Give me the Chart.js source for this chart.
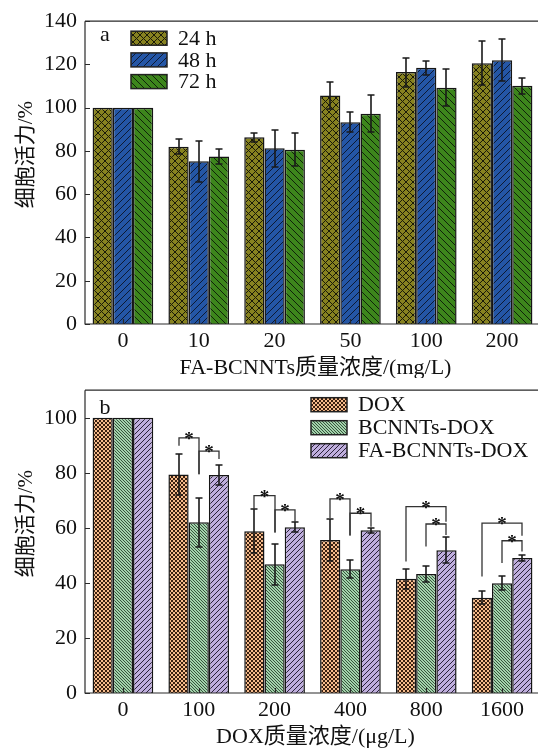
<!DOCTYPE html>
<html>
<head>
<meta charset="utf-8">
<script src="https://cdn.jsdelivr.net/npm/chart.js@4.4.1/dist/chart.umd.min.js"></script>
<style>
  html, body { margin: 0; padding: 0; width: 538px; height: 749px; overflow: hidden; background: #fff; }
  canvas { position: absolute; left: 0; }
  #ca { top: 0; }
  #cb { top: 369px; }
</style>
</head>
<body>
<canvas id="ca" width="545" height="378"></canvas>
<canvas id="cb" width="545" height="380"></canvas>
<script>
// panel a: FA-BCNNTs, 24/48/72 h
const catsA = ['0', '10', '20', '50', '100', '200']
const h24 = [100, 82.0, 86.3, 105.7, 116.5, 120.6]
const h24Err = [0, 3.4, 2.2, 6.1, 6.7, 10.3]
const h48 = [100, 75.3, 81.3, 93.3, 118.5, 122.0]
const h48Err = [0, 9.5, 8.6, 4.6, 3.2, 9.6]
const h72 = [100, 77.4, 80.6, 97.2, 109.2, 110.2]
const h72Err = [0, 3.6, 7.7, 8.5, 8.5, 3.7]
const ticksA = [0, 20, 40, 60, 80, 100, 120, 140]

// panel b: DOX formulations
const catsB = ['0', '100', '200', '400', '800', '1600']
const dox = [100, 79.4, 58.8, 55.6, 41.5, 34.6]
const doxErr = [0, 7.6, 7.9, 7.6, 3.7, 2.4]
const bcnnt = [100, 62.0, 46.8, 45.0, 43.2, 39.9]
const bcnntErr = [0, 8.8, 7.5, 3.3, 2.9, 2.6]
const faDox = [100, 79.2, 60.2, 59.1, 51.9, 49.0]
const faDoxErr = [0, 3.8, 1.8, 1.0, 4.7, 1.0]
const ticksB = [0, 20, 40, 60, 80, 100]
// significance brackets: [category, from series, to series, top, left end, right end]
const sigB = [
  [1, 0, 1, 92.7, 89.8, 79.5], [1, 1, 2, 87.9, 79.5, 85.0],
  [2, 0, 1, 71.7, 66.7, 58.3], [2, 1, 2, 66.5, 58.3, 61.9],
  [3, 0, 1, 70.5, 63.5, 57.2], [3, 1, 2, 65.3, 57.2, 60.4],
  [4, 0, 2, 67.7, 47.8, 62.2], [4, 1, 2, 61.4, 53.2, 57.4],
  [5, 0, 2, 61.7, 42.3, 57.1], [5, 1, 2, 55.3, 47.2, 51.4],
]

const SERIF = '"Liberation Serif", "Times New Roman", serif'
const MIXED = '"Liberation Serif", "Noto Sans CJK SC", serif'

function hatch(ctx, bg, line, size, dirs, lw) {
  const c = document.createElement('canvas')
  c.width = c.height = size
  const g = c.getContext('2d')
  g.fillStyle = bg
  g.fillRect(0, 0, size, size)
  g.strokeStyle = line
  g.lineWidth = lw
  g.beginPath()
  if (dirs.includes('/')) {
    g.moveTo(-1, size + 1); g.lineTo(size + 1, -1)
    g.moveTo(-1, 1); g.lineTo(1, -1)
    g.moveTo(size - 1, size + 1); g.lineTo(size + 1, size - 1)
  }
  if (dirs.includes('\\')) {
    g.moveTo(-1, -1); g.lineTo(size + 1, size + 1)
    g.moveTo(size - 1, -1); g.lineTo(size + 1, 1)
    g.moveTo(-1, size - 1); g.lineTo(1, size + 1)
  }
  g.stroke()
  return ctx.createPattern(c, 'repeat')
}

const errorBars = {
  id: 'errorBars',
  afterDatasetsDraw(chart) {
    const { ctx } = chart
    const y = chart.scales.y
    ctx.save()
    ctx.strokeStyle = '#1a1a1a'
    ctx.lineWidth = 1.6
    chart.data.datasets.forEach((ds, i) => {
      chart.getDatasetMeta(i).data.forEach((bar, j) => {
        const e = ds.errors[j]
        if (!e) return
        const t = Math.round(y.getPixelForValue(ds.data[j] + e))
        const b = Math.round(y.getPixelForValue(ds.data[j] - e))
        const x = Math.round(bar.x)
        ctx.beginPath()
        ctx.moveTo(x, t); ctx.lineTo(x, b)
        ctx.moveTo(x - 3.5, t); ctx.lineTo(x + 3.5, t)
        ctx.moveTo(x - 3.5, b); ctx.lineTo(x + 3.5, b)
        ctx.stroke()
      })
    })
    ctx.restore()
  },
}

const frame = {
  id: 'frame',
  afterDatasetsDraw(chart, args, opts) {
    const { ctx, chartArea: a } = chart
    const xs = chart.scales.x, ys = chart.scales.y
    ctx.save()
    ctx.strokeStyle = '#2a2a2a'
    ctx.lineWidth = 1.6
    ctx.beginPath()
    ctx.moveTo(a.left, a.top); ctx.lineTo(a.right, a.top)
    ctx.moveTo(a.left, a.top); ctx.lineTo(a.left, a.bottom); ctx.lineTo(a.right, a.bottom)
    ctx.lineWidth = 1.2
    ys.ticks.forEach(t => {
      const p = Math.round(ys.getPixelForValue(t.value)) + 0.5
      ctx.moveTo(a.left, p); ctx.lineTo(a.left + 5, p)
    })
    xs.ticks.forEach((t, i) => {
      const p = Math.round(xs.getPixelForTick(i)) + 0.5
      ctx.moveTo(p, a.bottom); ctx.lineTo(p, a.bottom - 5)
    })
    ctx.stroke()

    // significance brackets
    if (opts.sig) {
      ctx.lineWidth = 1.3
      ctx.strokeStyle = '#333'
      ctx.fillStyle = '#111'
      ctx.font = 'bold 19px ' + SERIF
      ctx.textAlign = 'center'
      ctx.textBaseline = 'alphabetic'
      opts.sig.forEach(([c, s1, s2, top, l, r]) => {
        const x1 = Math.round(chart.getDatasetMeta(s1).data[c].x)
        const x2 = Math.round(chart.getDatasetMeta(s2).data[c].x)
        const yt = ys.getPixelForValue(top), yl = ys.getPixelForValue(l), yr = ys.getPixelForValue(r)
        ctx.beginPath()
        ctx.moveTo(x1, yl); ctx.lineTo(x1, yt); ctx.lineTo(x2, yt); ctx.lineTo(x2, yr)
        ctx.stroke()
        ctx.fillText('*', (x1 + x2) / 2, yt + 7)
      })
    }

    // legend
    ctx.lineWidth = 1.5
    ctx.strokeStyle = '#222'
    ctx.font = '22px ' + SERIF
    ctx.textAlign = 'left'
    ctx.textBaseline = 'middle'
    chart.data.datasets.forEach((ds, i) => {
      const bx = a.left + opts.legendX, by = a.top + opts.legendY + i * opts.legendGap
      ctx.fillStyle = ds.backgroundColor
      ctx.fillRect(bx, by, 36, 14)
      ctx.strokeRect(bx, by, 36, 14)
      ctx.fillStyle = '#111'
      ctx.fillText(ds.label, bx + 47, by + 8)
    })

    // panel letter and titles
    ctx.fillStyle = '#111'
    ctx.textAlign = 'center'
    ctx.textBaseline = 'alphabetic'
    ctx.font = '22px ' + SERIF
    ctx.fillText(opts.letter, a.left + 20, a.top + opts.letterY)
    ctx.font = '22px ' + MIXED
    ctx.fillText(opts.xTitle, (a.left + a.right) / 2 + 3, a.bottom + 50)
    ctx.translate(32, (a.top + a.bottom) / 2 - 18)
    ctx.rotate(-Math.PI / 2)
    ctx.font = '21px ' + MIXED
    ctx.fillText('细胞活力/%', 0, 0)
    ctx.restore()
  },
}

function makeChart(id, cats, series, yMax, yTicks, padTop, extra) {
  const el = document.getElementById(id)
  const ctx = el.getContext('2d')
  return new Chart(el, {
    type: 'bar',
    data: {
      labels: cats,
      datasets: series.map(s => ({
        label: s.label,
        data: s.data,
        errors: s.err,
        backgroundColor: hatch(ctx, ...s.pat),
        borderColor: '#151515',
        borderWidth: 1.5,
        categoryPercentage: 0.8,
        barPercentage: 1.0,
      })),
    },
    options: {
      responsive: false,
      animation: false,
      layout: { padding: { top: padTop, right: 5, left: 0, bottom: 0 } },
      plugins: {
        legend: { display: false },
        tooltip: { enabled: false },
        frame: extra,
      },
      scales: {
        x: {
          grid: { display: false, drawTicks: false },
          border: { display: false },
          ticks: { color: '#111', font: { family: SERIF, size: 22 }, padding: 4 },
          afterFit: s => { s.height = el.height - padTop - 303 },
        },
        y: {
          min: 0,
          max: yMax,
          grid: { display: false, drawTicks: false },
          border: { display: false },
          afterBuildTicks: s => { s.ticks = yTicks.map(v => ({ value: v })) },
          ticks: { color: '#111', font: { family: SERIF, size: 22 }, padding: 8 },
          afterFit: s => { s.width = 85 },
        },
      },
    },
    plugins: [errorBars, frame],
  })
}

makeChart('ca', catsA, [
  { label: '24 h', data: h24, err: h24Err, pat: ['#878220', '#1a1a08', 7, '/\\', 1] },
  { label: '48 h', data: h48, err: h48Err, pat: ['#2456a6', '#0d1a33', 7, '/', 1] },
  { label: '72 h', data: h72, err: h72Err, pat: ['#3d861c', '#0f220a', 7, '\\', 1] },
], 140, ticksA, 21, {
  letter: 'a', letterY: 20, legendX: 46, legendY: 10, legendGap: 21.7,
  xTitle: 'FA-BCNNTs质量浓度/(mg/L)',
})

makeChart('cb', catsB, [
  { label: 'DOX', data: dox, err: doxErr, pat: ['#f7bc8c', '#3a2010', 4, '/\\', 1] },
  { label: 'BCNNTs-DOX', data: bcnnt, err: bcnntErr, pat: ['#a3d3ac', '#1c3320', 3, '\\', 0.8] },
  { label: 'FA-BCNNTs-DOX', data: faDox, err: faDoxErr, pat: ['#bfaedd', '#2a2238', 5, '/', 1] },
], 110, ticksB, 21, {
  letter: 'b', letterY: 24, legendX: 226, legendY: 7.5, legendGap: 23, sig: sigB,
  xTitle: 'DOX质量浓度/(μg/L)',
})
</script>
</body>
</html>
